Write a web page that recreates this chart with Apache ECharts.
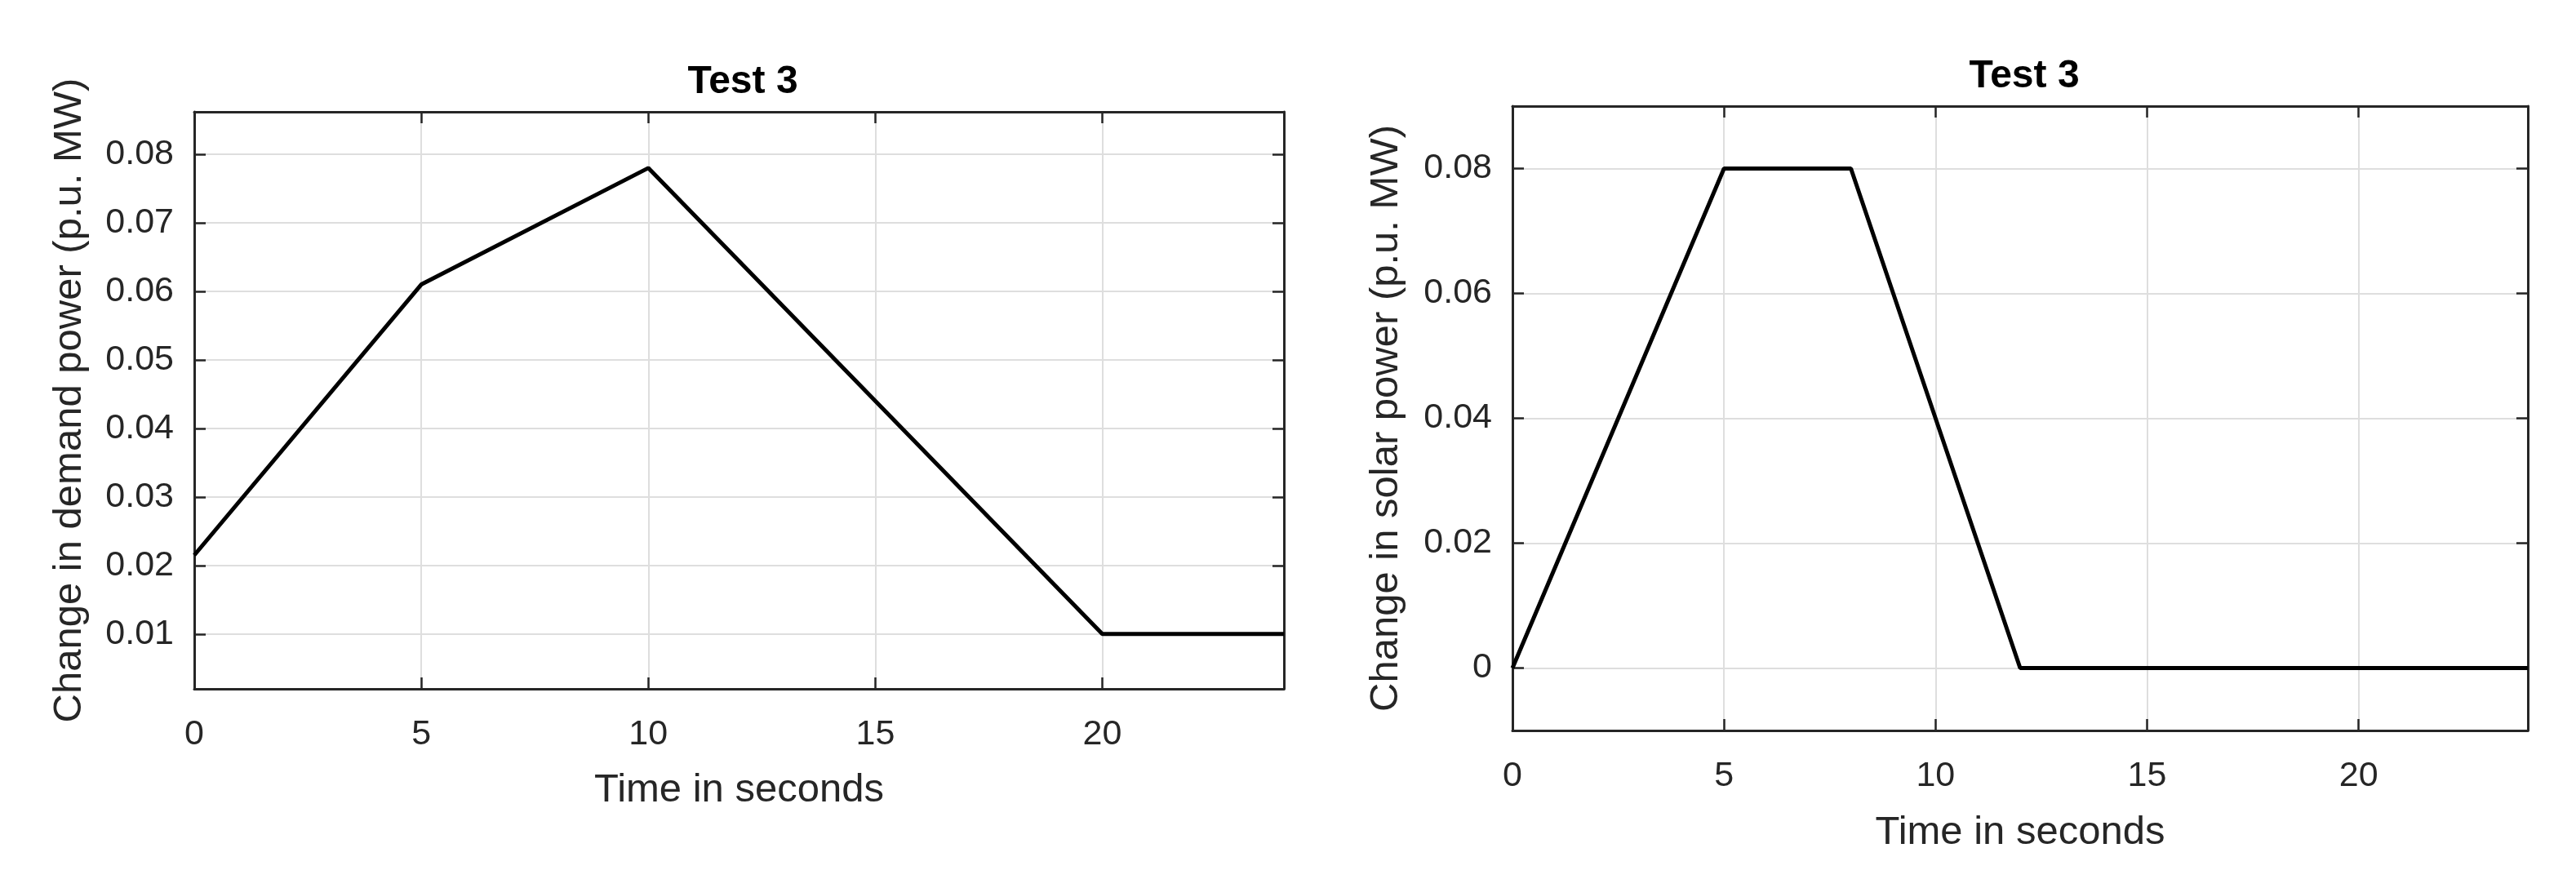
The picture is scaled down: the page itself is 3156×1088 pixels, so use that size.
<!DOCTYPE html>
<html>
<head>
<meta charset="utf-8">
<title>Test 3</title>
<script src="https://cdn.jsdelivr.net/npm/echarts@6/dist/echarts.min.js"></script>
<style>
  html, body { margin: 0; padding: 0; background: #fff; }
  #chart { width: 3156px; height: 1088px; }
</style>
</head>
<body>
<div id="chart"></div>
<script>
// time points (seconds) and values for each panel
let demandTime = [0, 5, 10, 20, 24];
let demandValue = [0.0215, 0.061, 0.078, 0.010, 0.010];
let solarTime = [0, 5, 8, 12, 24];
let solarValue = [0, 0.080, 0.080, 0, 0];

let timeTicks = [0, 5, 10, 15, 20];
let demandTicks = [0.01, 0.02, 0.03, 0.04, 0.05, 0.06, 0.07, 0.08];
let solarTicks = [0, 0.02, 0.04, 0.06, 0.08];

let titles = ["Test 3", "Test 3"];
let xName = "Time in seconds";
let demandName = "Change in demand power (p.u. MW)";
let solarName = "Change in solar power (p.u. MW)";

const FONT = "Liberation Sans";
const frame = "#262626";

function pairs(xs, ys) {
    return xs.map((x, i) => [x, ys[i]]);
}

function mainX(grid, margin, gap) {
    return {
        type: "value", gridIndex: grid, min: 0, max: 24, position: "bottom",
        name: xName, nameLocation: "middle", nameGap: gap,
        nameTextStyle: {fontFamily: FONT, fontSize: 49, color: "#262626"},
        axisLine: {onZero: false, lineStyle: {color: frame, width: 3}},
        axisTick: {inside: true, length: 14, customValues: timeTicks, lineStyle: {color: frame, width: 2.5}},
        axisLabel: {customValues: timeTicks, margin: margin, fontFamily: FONT, fontSize: 43, color: "#262626"},
        splitLine: {show: true, lineStyle: {color: "#dedede", width: 2}}
    };
}

function mirrorX(grid) {
    return {
        type: "value", gridIndex: grid, min: 0, max: 24, position: "top",
        axisLine: {onZero: false, lineStyle: {color: frame, width: 3}},
        axisTick: {inside: true, length: 14, customValues: timeTicks, lineStyle: {color: frame, width: 2.5}},
        axisLabel: {show: false},
        splitLine: {show: false}
    };
}

function mainY(grid, min, max, ticks, name, gap) {
    return {
        type: "value", gridIndex: grid, min: min, max: max, position: "left",
        name: name, nameLocation: "middle", nameGap: gap,
        nameTextStyle: {fontFamily: FONT, fontSize: 49, color: "#262626"},
        axisLine: {show: true, onZero: false, lineStyle: {color: frame, width: 3}},
        axisTick: {show: true, inside: true, length: 14, customValues: ticks, lineStyle: {color: frame, width: 2.5}},
        axisLabel: {customValues: ticks, margin: 25, fontFamily: FONT, fontSize: 43, color: "#262626"},
        splitLine: {show: true, lineStyle: {color: "#dedede", width: 2}}
    };
}

function mirrorY(grid, min, max, ticks) {
    return {
        type: "value", gridIndex: grid, min: min, max: max, position: "right",
        axisLine: {show: true, onZero: false, lineStyle: {color: frame, width: 3}},
        axisTick: {show: true, inside: true, length: 14, customValues: ticks, lineStyle: {color: frame, width: 2.5}},
        axisLabel: {show: false},
        splitLine: {show: false}
    };
}

var myChart = echarts.init(document.getElementById("chart"));
myChart.setOption({
    backgroundColor: "#fff",
    animation: false,
    title: [
        {text: titles[0], left: 905, top: 72, textAlign: "center",
         textStyle: {fontFamily: FONT, fontSize: 48, fontWeight: "bold", color: "#000"}},
        {text: titles[1], left: 2475, top: 65, textAlign: "center",
         textStyle: {fontFamily: FONT, fontSize: 48, fontWeight: "bold", color: "#000"}}
    ],
    grid: [
        {left: 238, top: 137, width: 1335, height: 707},
        {left: 1853, top: 130, width: 1244, height: 765}
    ],
    xAxis: [
        mainX(0, 35, 100),
        mirrorX(0),
        mainX(1, 35, 101),
        mirrorX(1)
    ],
    yAxis: [
        mainY(0, 0.002, 0.0862, demandTicks, demandName, 128),
        mirrorY(0, 0.002, 0.0862, demandTicks),
        mainY(1, -0.01, 0.09, solarTicks, solarName, 130),
        mirrorY(1, -0.01, 0.09, solarTicks)
    ],
    series: [
        {
            type: "line", xAxisIndex: 0, yAxisIndex: 0, showSymbol: false,
            lineStyle: {color: "#000", width: 5}, data: pairs(demandTime, demandValue)
        },
        {
            type: "line", xAxisIndex: 2, yAxisIndex: 2, showSymbol: false,
            lineStyle: {color: "#000", width: 5}, data: pairs(solarTime, solarValue)
        }
    ]
});
</script>
</body>
</html>
